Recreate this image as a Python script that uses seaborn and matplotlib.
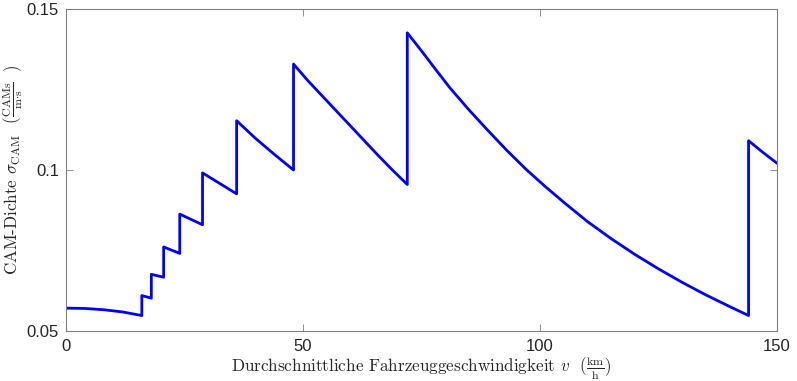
import matplotlib
matplotlib.use("Agg")
import matplotlib.pyplot as plt
import seaborn as sns
import pandas as pd

# Data (speed in km/h, CAM density in CAMs/(m*s))
speed = [0, 4, 8, 12, 16, 16, 18, 18, 20.6, 20.6, 24, 24, 28.8, 28.8, 36, 36,
         40, 44, 48, 48, 51, 54, 57, 60, 63, 66, 69, 72, 72, 75, 78, 81, 85,
         89, 93, 97, 101, 105, 110, 115, 120, 125, 130, 135, 140, 144, 144,
         147, 150]
density = [0.0571, 0.0570, 0.0566, 0.0559, 0.0548, 0.0610, 0.0602, 0.0676,
           0.0667, 0.0761, 0.0741, 0.0863, 0.0830, 0.0991, 0.0926, 0.1153,
           0.1098, 0.1048, 0.1000, 0.1329, 0.1278, 0.1231, 0.1184, 0.1137,
           0.1090, 0.1043, 0.0998, 0.0955, 0.1426, 0.1370, 0.1312, 0.1255,
           0.1187, 0.1123, 0.1061, 0.1003, 0.0950, 0.0900, 0.0840, 0.0787,
           0.0738, 0.0693, 0.0651, 0.0612, 0.0576, 0.0548, 0.1091, 0.1055,
           0.1021]

x_ticks = [0, 50, 100, 150]
x_tick_labels = ["0", "50", "100", "150"]
y_ticks = [0.05, 0.1, 0.15]
y_tick_labels = ["0.05", "0.1", "0.15"]

sns.set_style("white")
plt.rcParams["font.family"] = ["Liberation Sans", "DejaVu Sans"]
plt.rcParams["mathtext.fontset"] = "cm"

df = pd.DataFrame({"v": speed, "sigma": density})

fig = plt.figure(figsize=(7.97, 3.81), dpi=100)
ax = fig.add_axes([66 / 797, 1 - 331 / 381, 711 / 797, 322 / 381])

sns.lineplot(data=df, x="v", y="sigma", sort=False, estimator=None,
             color="#0000ff", linewidth=2.0, ax=ax)

ax.set_xlim(0, 150)
ax.set_ylim(0.05, 0.15)
ax.set_xticks(x_ticks)
ax.set_xticklabels(x_tick_labels)
ax.set_yticks(y_ticks)
ax.set_yticklabels(y_tick_labels)

for s in ax.spines.values():
    s.set_visible(True)
    s.set_color("#808080")
    s.set_linewidth(0.8)

ax.tick_params(axis="both", direction="in", length=5, width=0.6,
               color="#808080", labelsize=12, labelcolor="#262626",
               top=True, right=True, bottom=True, left=True)
ax.tick_params(axis="x", pad=6)
ax.tick_params(axis="y", pad=5)

ax.set_xlabel(r"Durchschnittliche Fahrzeuggeschwindigkeit $v$  $(\frac{\mathrm{km}}{\mathrm{h}})$",
              fontfamily="cmr10", fontsize=12.3, color="#262626")
ax.set_ylabel(r"CAM-Dichte $\sigma_{\mathrm{CAM}}$  $(\frac{\mathrm{CAMs}}{\mathrm{m{\cdot}s}}\ \ )$",
              fontfamily="cmr10", fontsize=12.3, color="#262626")
ax.xaxis.set_label_coords(0.5, -0.074)
ax.yaxis.set_label_coords(-0.058, 0.5)

fig.savefig("out.png", dpi=100)
